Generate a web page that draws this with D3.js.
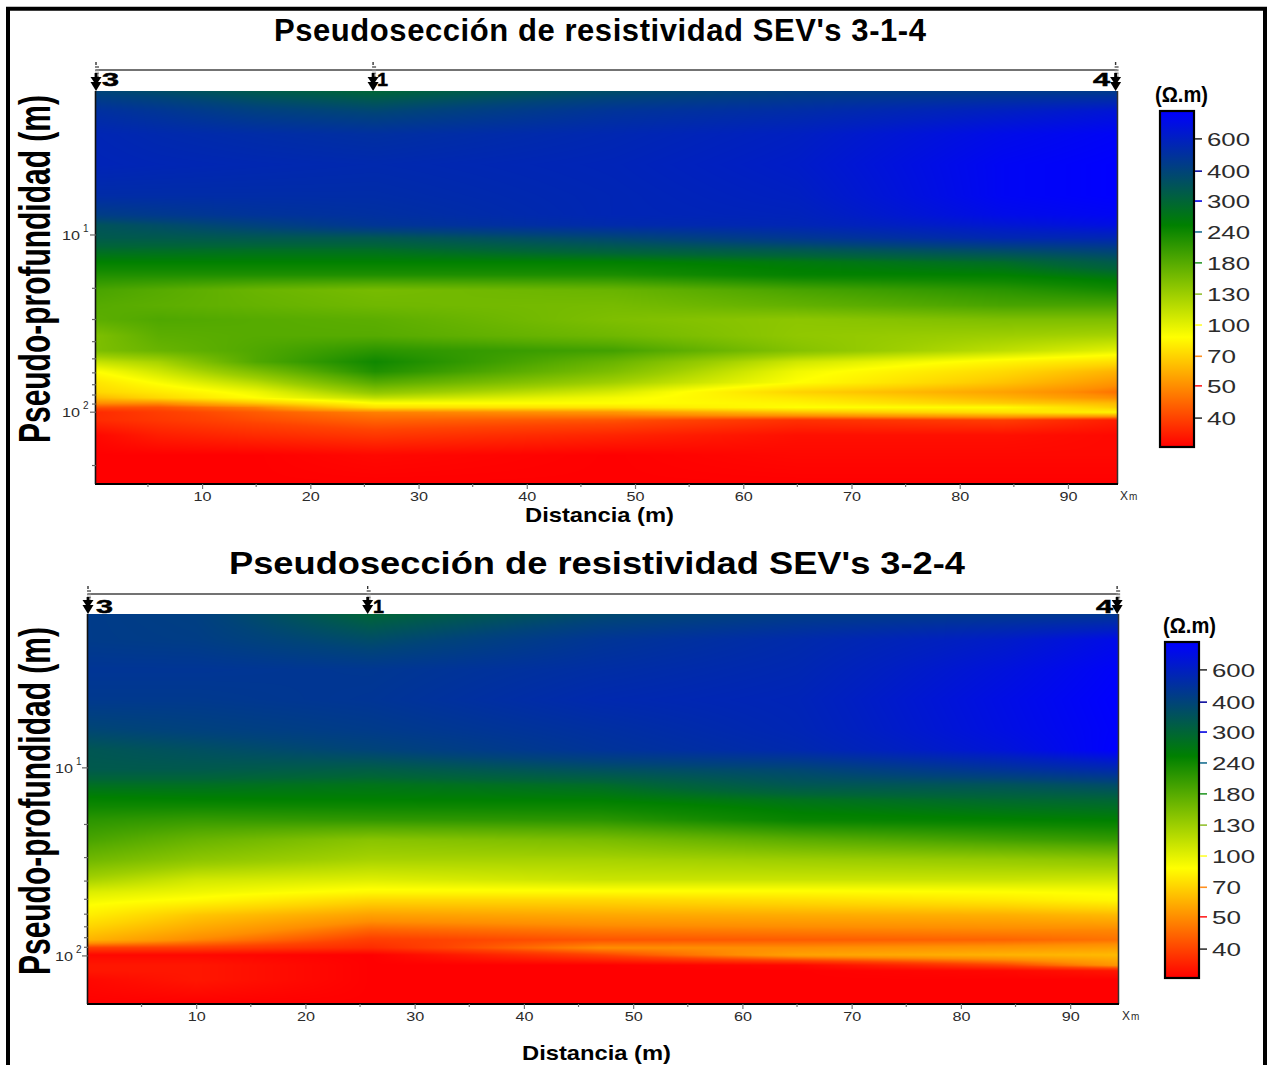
<!DOCTYPE html>
<html><head><meta charset="utf-8">
<script src="https://cdn.jsdelivr.net/npm/d3@7/dist/d3.min.js"></script>
<style>html,body{margin:0;padding:0;background:#fff;overflow:hidden}svg{display:block}text{font-family:"Liberation Sans",Arial,sans-serif}</style>
</head><body><svg id="c" width="1267" height="1065"></svg>
<script>
// ---- data ----
const titleA = "Pseudosección de resistividad SEV's 3-1-4";
const titleB = "Pseudosección de resistividad SEV's 3-2-4";
const xLabel = "Distancia (m)";
const yLabel = "Pseudo-profundidad (m)";
const unitLabel = "(Ω.m)";
const xTickValues = [10,20,30,40,50,60,70,80,90];
const xMinorValues = [5,15,25,35,45,55,65,75,85];
const yMinorValues = [20,30,40,50,60,70,80,90,200];
const yMajorValues = [10,100];
const sevNames = ["3","1","4"];
const sevPositionsA = [0.2,25.8,94.4];
const sevPositionsB = [0.1,25.7,94.3];
const barTicks = [600,400,300,240,180,130,100,70,50,40];
const barTickColors = ["#333","#0a0a9c","#0000e0","#1a6f90","#2a9a2a","#93c030","#ffff30","#ff9020","#ff2020","#333"];
const valueAnchors = [800,600,400,300,260,240,180,130,100,90,70,50,40,30];
const positionAnchors = [0,.083,.179,.268,.34,.36,.452,.545,.637,.673,.73,.818,.914,1];
const colourPositions = [0,.34,.673,1];
const colourStops = ["#0000ff","#008000","#ffff00","#ff0000"];

const distA = [0.2,6,15,26,48,65,84,94.5];
const depthA = [1.54,2,2.7,4,6,7.7,8.8,10.4,12.2,14.2,16.8,20.5,25,30,37,45,52,59,68,77,83,89,94,100,111,135,175,251];
const resA = [
[400,370,330,300,370,420,440,440],
[500,470,420,390,480,520,600,660],
[560,540,520,500,550,600,720,770],
[570,560,550,540,570,620,760,800],
[520,520,520,520,560,600,760,800],
[430,450,480,500,560,580,720,760],
[350,370,410,470,530,560,650,700],
[330,330,335,335,390,460,550,560],
[290,288,285,285,315,335,380,410],
[260,260,260,260,260,270,290,330],
[225,225,225,225,228,255,260,280],
[190,180,165,155,165,190,215,235],
[180,175,168,160,155,170,190,190],
[175,185,180,175,150,140,150,150],
[150,175,180,180,160,138,130,125],
[150,165,185,215,195,145,115,100],
[112,125,185,240,165,108,85,75],
[90,108,150,225,150,95,73,60],
[78,92,118,180,128,90,65,52],
[72,80,96,140,105,70,55,46],
[62,72,90,115,94,78,60,50],
[50,50,66,90,90,85,68,62],
[42,42,48,75,77,90,88,68],
[36,39,43,48,52,65,76,85],
[36,38,41,44,42,37,39,34],
[31,34,36,38,35,32,32,31],
[30,30,30,31,30,31,31,31],
[30,30,30,30,30,30,30,30]];

const distB = [0.1,10,26,47,65,84,94.4];
const depthB = [1.52,2.08,3,4.35,6.3,8,10.2,12.3,14.8,18.9,24.2,30.8,39.4,45.7,50.4,60.5,72.8,82.2,90.6,98.8,112,120,134,178];
const resB = [
[440,420,300,380,430,450,460],
[440,430,370,470,530,620,720],
[470,470,460,510,550,680,780],
[450,450,470,540,570,710,800],
[390,410,440,500,560,700,790],
[340,360,400,480,540,670,800],
[330,330,320,360,390,480,540],
[285,285,278,290,340,350,375],
[255,258,260,262,280,295,300],
[215,205,210,215,250,258,262],
[190,165,142,152,175,195,205],
[160,140,125,125,130,135,140],
[125,107,102,110,110,110,108],
[103,96,87,88,88,90,92],
[95,88,72,72,75,80,87],
[82,66,55,57,58,59,62],
[68,56,44,47,48,49,49],
[60,49,39,42,43,44,46],
[39,39,36,50,50,52,54],
[31,31,30,40,55,60,62],
[33,33,30,30,31,40,52],
[33,33,30,30,30,31,33],
[31,33,30,30,30,30,30],
[30,30,30,30,30,30,30]];

// ---- shared scales ----
const positionOf = d3.scaleLog().domain(valueAnchors).range(positionAnchors).clamp(true);
const colourOf = d3.scaleLinear().domain(colourPositions).range(colourStops).interpolate(d3.interpolateRgb).clamp(true);
const svg = d3.select("#c");
const ink = "#2b2b2b";

// frame
svg.append("path").attr("d","M8,1065V8.8H1265V1065").attr("fill","none").attr("stroke","#000").attr("stroke-width",4);

function stretched(sel, len){ return sel.attr("textLength",len).attr("lengthAdjust","spacingAndGlyphs"); }

function heat(g, x, y, dist, depth, res){
  const [x0,x1]=x.range(), [y0,y1]=y.range();
  const w=x1-x0, h=y1-y0;
  const cv=document.createElement("canvas"); cv.width=w; cv.height=h;
  const ctx=cv.getContext("2d"), img=ctx.createImageData(w,h);
  const logDepth=depth.map(Math.log10);
  const locate=(arr,v)=>{ let i=d3.bisectRight(arr,v)-1; i=Math.max(0,Math.min(arr.length-2,i)); const f=Math.max(0,Math.min(1,(v-arr[i])/(arr[i+1]-arr[i]))); return [i,f]; };
  for(let py=0;py<h;py++){
    const [r,fr]=locate(logDepth,Math.log10(y.invert(y0+py+.5)));
    for(let px=0;px<w;px++){
      const [c,fc]=locate(dist,x.invert(x0+px+.5));
      const a=Math.log10(res[r][c])*(1-fc)+Math.log10(res[r][c+1])*fc;
      const b=Math.log10(res[r+1][c])*(1-fc)+Math.log10(res[r+1][c+1])*fc;
      const v=Math.pow(10,a*(1-fr)+b*fr);
      const col=d3.rgb(colourOf(positionOf(v)));
      const k=(py*w+px)*4;
      img.data[k]=col.r; img.data[k+1]=col.g; img.data[k+2]=col.b; img.data[k+3]=255;
    }
  }
  ctx.putImageData(img,0,0);
  g.append("image").attr("x",x0).attr("y",y0).attr("width",w).attr("height",h).attr("href",cv.toDataURL());
}

function panel(o){
  const g=svg.append("g");
  const x=d3.scaleLinear().domain(o.xDomain).range(o.xRange);
  const y=d3.scaleLog().domain(o.yDomain).range(o.yRange);
  const [L,R]=o.xRange,[T,B]=o.yRange;

  g.append("text").text(o.title).attr("x",o.titleX).attr("y",o.titleY).attr("font-weight","bold").attr("font-size",o.titleSize).attr("fill","#000")
    .attr("textLength",o.titleLen).attr("lengthAdjust",o.titleAdjust);

  heat(g,x,y,o.dist,o.depth,o.res);

  // electrode header
  g.append("line").attr("x1",L).attr("x2",R).attr("y1",o.headY).attr("y2",o.headY).attr("stroke","#444").attr("stroke-width",1.4);
  const sev=g.selectAll("g.sev").data(o.sev).join("g").attr("class","sev").attr("transform",d=>`translate(${x(d)},0)`);
  sev.append("line").attr("y1",o.headY-8).attr("y2",o.headY-5).attr("stroke","#333").attr("stroke-width",1.4);
  sev.append("line").attr("y1",o.headY-4).attr("y2",o.headY+7).attr("x1",1).attr("x2",1).attr("stroke","#888").attr("stroke-width",4).attr("stroke-dasharray","2 1.2");
  sev.append("line").attr("y1",o.headY+3).attr("y2",T-6).attr("stroke","#000").attr("stroke-width",2.8);
  sev.append("path").attr("d",`M-5.5,${T-14}L5.5,${T-14}L0,${T-6}Z`).attr("fill","#000");
  sev.append("path").attr("d",`M-5.5,${T-9}L5.5,${T-9}L0,${T}Z`).attr("fill","#000");
  g.selectAll("text.sevn").data(sevNames).join("text").attr("class","sevn").text(d=>d)
    .attr("x",(d,i)=>o.sevLabelX[i]).attr("y",o.sevLabelY).attr("font-weight","bold").attr("font-size",19).attr("fill","#000")
    .attr("stroke","#000").attr("stroke-width",.5)
    .attr("textLength",(d,i)=>i==1?11:17).attr("lengthAdjust","spacingAndGlyphs");

  // right edge of the map
  g.append("line").attr("x1",R+.5).attr("x2",R+.5).attr("y1",T).attr("y2",B+1).attr("stroke","#333").attr("stroke-width",1.5);

  // x axis
  const ax=g.append("g").attr("transform",`translate(0,${B+1})`);
  ax.call(d3.axisBottom(x).tickValues(xTickValues).tickSize(5).tickPadding(3).tickFormat(d3.format("d")));
  ax.select(".domain").attr("stroke","#000").attr("stroke-width",2).attr("d",`M${L-1},0H${R+1}`);
  ax.selectAll(".tick line").attr("stroke","#777").attr("stroke-width",1.2);
  ax.selectAll(".tick text").attr("fill",ink).attr("font-size",12).attr("font-family","Liberation Sans").call(stretched,18);
  ax.selectAll("line.minor").data(xMinorValues).join("line").attr("class","minor").attr("x1",d=>x(d)).attr("x2",d=>x(d)).attr("y1",0).attr("y2",3).attr("stroke","#777").attr("stroke-width",1.2);
  const xm=g.append("text").attr("x",o.xmX).attr("y",B+17).attr("fill",ink).attr("font-size",12);
  xm.append("tspan").text("X"); xm.append("tspan").text("m").attr("font-size",10).attr("dx",1);

  // y axis (minor ticks only below the first decade label)
  const ay=g.append("g").attr("transform",`translate(${L},0)`);
  ay.append("line").attr("x1",-.5).attr("x2",-.5).attr("y1",T).attr("y2",B+1).attr("stroke","#111").attr("stroke-width",1.6);
  const yTicks=yMinorValues.filter(d=>d<o.yDomain[1]);
  ay.selectAll("line.t").data(yTicks).join("line").attr("class","t").attr("x1",-4).attr("x2",0).attr("y1",d=>y(d)).attr("y2",d=>y(d)).attr("stroke","#666").attr("stroke-width",1.2);
  ay.selectAll("line.M").data(yMajorValues).join("line").attr("class","M").attr("x1",-6).attr("x2",0).attr("y1",d=>y(d)).attr("y2",d=>y(d)).attr("stroke","#666").attr("stroke-width",1.2);
  const lab=g.selectAll("g.yl").data(yMajorValues).join("g").attr("class","yl").attr("transform",d=>`translate(${o.yLabX},${y(d)})`);
  lab.append("text").text("10").attr("y",5).attr("fill",ink).attr("font-size",12).call(stretched,18);
  lab.append("text").text(d=>Math.round(Math.log10(d))).attr("x",21).attr("y",-3).attr("fill",ink).attr("font-size",10);

  // axis titles
  g.append("text").text(o.xTitle).attr("x",o.xTitleX).attr("y",o.xTitleY).attr("font-weight","bold").attr("font-size",21).attr("fill","#000").call(stretched,149);
  const yt=g.append("text").text(yLabel).attr("font-weight","bold").attr("font-size",45).attr("fill","#000");
  const sx=348/yt.node().getComputedTextLength();
  yt.attr("transform",`translate(50,${o.yTitleBottom}) rotate(-90) scale(${sx},1)`);

  // colour bar
  const id="bar"+o.id;
  const grad=svg.append("defs").append("linearGradient").attr("id",id).attr("x1",0).attr("x2",0).attr("y1",0).attr("y2",1);
  grad.selectAll("stop").data(colourPositions).join("stop").attr("offset",d=>d).attr("stop-color",(d,i)=>colourStops[i]);
  const bx=o.barX,bT=o.barY,bH=336,bW=34;
  const by=d3.scaleLinear().domain([0,1]).range([bT,bT+bH]);
  g.append("rect").attr("x",bx).attr("y",bT).attr("width",bW).attr("height",bH).attr("fill",`url(#${id})`).attr("stroke","#000").attr("stroke-width",2.2);
  const tk=g.selectAll("g.bt").data(barTicks).join("g").attr("class","bt").attr("transform",d=>`translate(${bx+bW},${by(positionOf(d))})`);
  tk.append("line").attr("x1",1).attr("x2",8).attr("stroke",(d,i)=>barTickColors[i]).attr("stroke-width",1.6);
  tk.append("text").text(d=>d).attr("x",13).attr("y",7).attr("fill",ink).attr("font-size",19).attr("textLength",d=>d<100?29:43).attr("lengthAdjust","spacingAndGlyphs");
  g.append("text").text(unitLabel).attr("x",o.unitX).attr("y",o.unitY).attr("font-weight","bold").attr("font-size",22).attr("fill","#000").call(stretched,53);
}

panel({id:"A",title:titleA,titleX:274,titleY:41,titleSize:31,titleLen:652,titleAdjust:"spacing",
  xDomain:[0.2,94.53],xRange:[96,1117],yDomain:[1.54,251],yRange:[91,483],
  dist:distA,depth:depthA,res:resA,sev:sevPositionsA,sevLabelX:[102,377,1093],sevLabelY:86,headY:70,
  xmX:1120,yLabX:62,xTitle:xLabel,xTitleX:525,xTitleY:522,yTitleBottom:443,
  barX:1160,barY:111,unitX:1155,unitY:102});
panel({id:"B",title:titleB,titleX:229,titleY:574,titleSize:31,titleLen:736,titleAdjust:"spacingAndGlyphs",
  xDomain:[0.1,94.38],xRange:[88,1118],yDomain:[1.52,178],yRange:[614,1003],
  dist:distB,depth:depthB,res:resB,sev:sevPositionsB,sevLabelX:[96,373,1096],sevLabelY:613,headY:594,
  xmX:1122,yLabX:55,xTitle:xLabel,xTitleX:522,xTitleY:1060,yTitleBottom:975,
  barX:1165,barY:642,unitX:1163,unitY:633});
</script></body></html>
